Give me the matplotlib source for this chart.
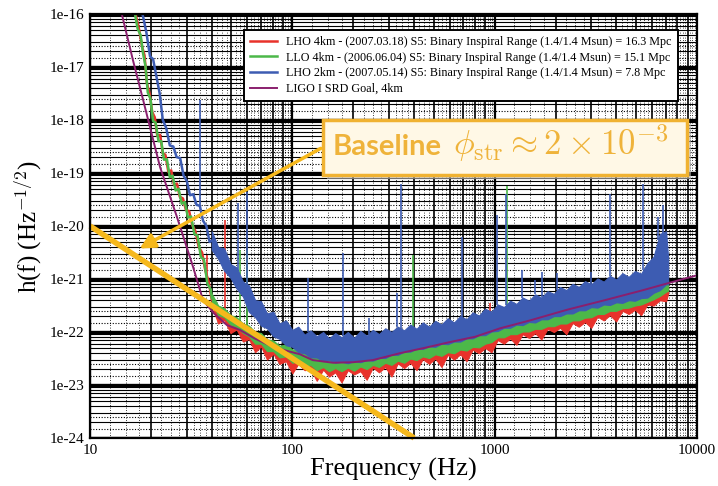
import numpy as np
import matplotlib
matplotlib.use("Agg")
import matplotlib.pyplot as plt
from matplotlib.patches import Rectangle

plt.rcParams["mathtext.fontset"] = "cm"
SERIF = ["Liberation Serif", "DejaVu Serif"]

# ---- low-frequency seismic wall (Hz, log10 strain) ----
lho4k_low_f = [16.8, 17.5, 18.1, 18.6, 19.1, 19.7, 20.3, 20.9, 21.5, 22.2, 22.9, 23.6, 24.4, 25.2, 26.0, 26.9,
               27.8, 28.8, 29.8, 30.9, 32.0, 33.2, 34.5, 35.8, 37.2, 38.6, 40.0]
lho4k_low_h = [-16.0, -16.30, -16.62, -16.78, -17.30, -17.50, -17.85, -17.95, -18.30, -18.28, -18.62, -18.66,
               -18.98, -18.95, -19.22, -19.20, -19.45, -19.48, -19.70, -19.72, -19.98, -20.10, -20.40, -20.50,
               -20.85, -21.05, -21.40]
llo4k_low_f = [16.5, 17.2, 17.8, 18.3, 18.8, 19.3, 19.9, 20.5, 21.1, 21.8, 22.5, 23.2, 24.0, 24.8, 25.6, 26.5,
               27.4, 28.4, 29.4, 30.5, 31.6, 32.8, 34.0, 35.3, 36.6, 38.0, 39.5, 40.0]
llo4k_low_h = [-15.9, -16.28, -16.40, -16.75, -16.98, -17.48, -17.60, -18.02, -18.05, -18.40, -18.40, -18.75,
               -18.74, -19.08, -19.05, -19.33, -19.30, -19.58, -19.55, -19.84, -19.82, -20.15, -20.18, -20.58,
               -20.64, -21.08, -21.20, -21.36]
lho2k_low_f = [17.5, 18.3, 19.0, 19.8, 20.5, 21.3, 22.1, 22.9, 23.8, 24.8, 25.8, 26.8, 27.9, 29.0, 30.1, 31.2,
               32.4, 33.6, 34.9, 36.2, 37.6, 39.0, 40.0]
lho2k_low_h = [-15.8, -16.05, -16.35, -16.80, -16.85, -17.18, -17.50, -18.00, -18.15, -18.48, -18.50, -18.70,
               -18.72, -19.05, -19.15, -19.42, -19.40, -19.60, -19.62, -19.90, -20.00, -20.30, -20.28]

# ---- broadband noise floor: lower / upper envelopes (log10 strain) ----
band_f = [40, 43, 46, 49.5, 53, 57, 61, 65.5, 70, 75, 80.5, 86.5, 93, 100, 107, 115, 123, 132, 142, 152, 163,
          175, 188, 202, 217, 233, 250, 268, 288, 309, 332, 357, 383, 411, 441, 474, 509, 546, 586, 630, 676,
          726, 779, 836, 898, 964, 1035, 1111, 1193, 1281, 1375, 1476, 1585, 1701, 1826, 1961, 2105, 2260,
          2426, 2604, 2796, 3002, 3222, 3459, 3714, 3987, 4280, 4595, 4933, 5296, 5685, 6103, 6552, 7034, 7200]

lho4k_hi = [-21.35, -21.58, -21.62, -21.76, -21.80, -21.92, -21.98, -22.10, -22.10, -22.24, -22.24, -22.36,
            -22.34, -22.46, -22.43, -22.54, -22.50, -22.60, -22.54, -22.62, -22.56, -22.62, -22.55, -22.61,
            -22.53, -22.58, -22.50, -22.54, -22.46, -22.50, -22.42, -22.46, -22.38, -22.41, -22.34, -22.37,
            -22.30, -22.33, -22.26, -22.28, -22.21, -22.23, -22.16, -22.17, -22.10, -22.07, -21.98, -21.98,
            -21.92, -21.92, -21.87, -21.87, -21.82, -21.82, -21.77, -21.77, -21.72, -21.72, -21.66, -21.66,
            -21.61, -21.60, -21.54, -21.54, -21.48, -21.48, -21.43, -21.42, -21.38, -21.36, -21.31, -21.26,
            -21.20, -21.12, -21.10]
lho4k_lo = [-21.50, -21.84, -21.77, -22.02, -21.95, -22.18, -22.13, -22.38, -22.27, -22.52, -22.41, -22.60,
            -22.55, -22.78, -22.60, -22.72, -22.70, -22.92, -22.71, -22.84, -22.76, -22.95, -22.72, -22.80,
            -22.74, -22.90, -22.67, -22.76, -22.66, -22.84, -22.59, -22.68, -22.58, -22.72, -22.51, -22.60,
            -22.50, -22.66, -22.43, -22.52, -22.42, -22.55, -22.33, -22.40, -22.30, -22.38, -22.15, -22.22,
            -22.12, -22.24, -22.04, -22.11, -22.02, -22.14, -21.94, -22.00, -21.92, -22.04, -21.83, -21.90,
            -21.81, -21.92, -21.71, -21.78, -21.68, -21.80, -21.60, -21.66, -21.58, -21.68, -21.48, -21.50,
            -21.40, -21.42, -21.27]

llo4k_hi = [-21.28, -21.50, -21.55, -21.68, -21.72, -21.84, -21.88, -22.00, -22.02, -22.14, -22.16, -22.26,
            -22.24, -22.33, -22.32, -22.41, -22.40, -22.48, -22.44, -22.50, -22.46, -22.51, -22.46, -22.50,
            -22.45, -22.48, -22.42, -22.44, -22.37, -22.39, -22.32, -22.34, -22.28, -22.29, -22.23, -22.23,
            -22.17, -22.18, -22.12, -22.13, -22.07, -22.08, -22.02, -22.02, -21.96, -21.93, -21.86, -21.86,
            -21.81, -21.80, -21.76, -21.76, -21.70, -21.70, -21.64, -21.64, -21.58, -21.58, -21.52, -21.52,
            -21.46, -21.46, -21.40, -21.40, -21.35, -21.34, -21.30, -21.29, -21.25, -21.23, -21.19, -21.15,
            -21.10, -21.04, -21.02]
llo4k_lo = [-21.45, -21.68, -21.72, -21.86, -21.90, -22.02, -22.08, -22.22, -22.22, -22.36, -22.36, -22.48,
            -22.46, -22.58, -22.55, -22.66, -22.62, -22.72, -22.66, -22.74, -22.68, -22.74, -22.67, -22.73,
            -22.65, -22.70, -22.62, -22.66, -22.58, -22.62, -22.54, -22.58, -22.50, -22.53, -22.46, -22.49,
            -22.42, -22.45, -22.38, -22.40, -22.33, -22.35, -22.28, -22.29, -22.22, -22.19, -22.10, -22.10,
            -22.04, -22.04, -21.99, -21.99, -21.94, -21.94, -21.89, -21.89, -21.84, -21.84, -21.78, -21.78,
            -21.73, -21.72, -21.66, -21.66, -21.60, -21.60, -21.55, -21.54, -21.50, -21.48, -21.43, -21.38,
            -21.32, -21.24, -21.22]

lho2k_hi = [-20.10, -20.40, -20.42, -20.72, -20.78, -21.05, -21.12, -21.40, -21.42, -21.65, -21.62, -21.84,
            -21.78, -21.96, -21.90, -22.05, -21.97, -22.08, -22.00, -22.12, -22.02, -22.10, -22.00, -22.11,
            -21.98, -22.07, -21.96, -22.04, -21.93, -22.00, -21.90, -21.97, -21.86, -21.94, -21.82, -21.90,
            -21.79, -21.86, -21.74, -21.82, -21.70, -21.76, -21.63, -21.69, -21.56, -21.62, -21.48, -21.53,
            -21.41, -21.47, -21.35, -21.41, -21.29, -21.35, -21.23, -21.28, -21.15, -21.21, -21.09, -21.15,
            -21.04, -21.10, -20.99, -21.05, -20.94, -21.01, -20.89, -20.96, -20.85, -20.90, -20.70, -20.58,
            -20.15, -20.10, -20.60]
lho2k_lo = [-20.45, -20.62, -20.84, -20.98, -21.18, -21.33, -21.62, -21.72, -21.88, -21.93, -22.08, -22.13,
            -22.25, -22.28, -22.38, -22.40, -22.48, -22.48, -22.55, -22.53, -22.58, -22.56, -22.59, -22.55,
            -22.57, -22.53, -22.54, -22.49, -22.49, -22.43, -22.43, -22.37, -22.37, -22.31, -22.32, -22.27,
            -22.28, -22.22, -22.23, -22.18, -22.18, -22.12, -22.12, -22.06, -22.06, -21.99, -21.98, -21.92,
            -21.92, -21.86, -21.87, -21.81, -21.82, -21.76, -21.76, -21.70, -21.70, -21.65, -21.65, -21.59,
            -21.59, -21.53, -21.54, -21.48, -21.49, -21.44, -21.45, -21.40, -21.41, -21.36, -21.35, -21.26,
            -21.21, -21.10, -21.10]

# ---- narrow spectral lines: frequency (Hz) and peak (log10 strain) ----
lho4k_line_f = [37.9, 46.5, 948, 6750]
lho4k_line_h = [-20.55, -19.89, -21.45, -21.0]
llo4k_line_f = [55.0, 59.7, 395, 1151]
llo4k_line_h = [-20.45, -20.45, -20.55, -19.25]
lho2k_line_f = [35.0, 54.0, 59.7, 120, 178, 239, 330, 345, 690, 1028, 1137, 1365, 1584, 1715, 2033, 2997,
                3720, 5420, 6420, 6800]
lho2k_line_h = [-17.62, -19.57, -19.36, -20.98, -20.51, -21.74, -21.26, -19.2, -20.21, -19.8, -19.4, -20.83,
                -21.02, -20.87, -20.89, -20.87, -19.4, -19.2, -19.83, -19.6]

# ---- design sensitivity ----
srd_f = [14.4, 16.3, 18.3, 22.2, 26.9, 32.3, 36.2, 41.0, 47.5, 55, 65, 80, 95, 109, 126, 159, 200, 250, 340,
         450, 600, 800, 1064, 1500, 2280, 3500, 5420, 7500, 10000]
srd_h = [-16.02, -16.87, -17.62, -18.89, -19.83, -20.77, -21.40, -21.65, -21.87, -21.96, -22.12, -22.28,
         -22.36, -22.42, -22.53, -22.58, -22.57, -22.53, -22.40, -22.30, -22.19, -22.09, -21.93, -21.78,
         -21.58, -21.40, -21.21, -21.06, -20.93]

# ---- baseline strain-noise line ----
baseline_f = [10, 400]
baseline_h = [1e-20, 1e-24]

legend_labels = [
    "LHO 4km - (2007.03.18) S5: Binary Inspiral Range (1.4/1.4 Msun) = 16.3 Mpc",
    "LLO 4km - (2006.06.04) S5: Binary Inspiral Range (1.4/1.4 Msun) = 15.1 Mpc",
    "LHO 2km - (2007.05.14) S5: Binary Inspiral Range (1.4/1.4 Msun) = 7.8 Mpc",
    "LIGO I SRD Goal, 4km",
]
colors = ["#e8322b", "#4cb849", "#3d5cb2", "#8a1f6e"]
ORANGE = "#f6b81c"
TEXT_ORANGE = "#efb33a"

fig = plt.figure(figsize=(7.18, 4.86), dpi=100)
ax = fig.add_axes([90 / 718, 1 - 438 / 486, 607 / 718, 424 / 486])
ax.set_xscale("log")
ax.set_yscale("log")
ax.set_xlim(10, 10000)
ax.set_ylim(1e-24, 1e-16)

# grid: solid decades and integer multiples, dotted subdivisions
for dec in [10, 100, 1000]:
    ax.axvline(dec, color="black", lw=1.6, zorder=1)
    for m in range(1, 10):
        if m > 1:
            ax.axvline(dec * m, color="black", lw=1.2, zorder=1)
        for k in (0.25, 0.5, 0.75):
            ax.axvline(dec * (m + k), color="black", lw=0.6, ls=(0, (1, 2)), zorder=1)
for e in range(-24, -15):
    ax.axhline(10.0 ** e, color="black", lw=2.4, zorder=1)
    for m in range(2, 10):
        ax.axhline(m * 10.0 ** e, color="black", lw=0.8, zorder=1)
    for m in (1.5, 2.5):
        ax.axhline(m * 10.0 ** e, color="black", lw=0.8, ls=(0, (1, 1.5)), zorder=1)


def draw_detector(low_f, low_h, lo, hi, line_f, line_h, color, label):
    ax.plot(low_f, 10.0 ** np.array(low_h), color=color, lw=1.8, zorder=3, label=label)
    ax.fill_between(band_f, 10.0 ** np.array(lo), 10.0 ** np.array(hi), color=color, lw=0.8,
                    edgecolor=color, zorder=3)
    trace_f = np.log10(list(low_f) + list(band_f))
    trace_h = list(low_h) + list(hi)
    order = np.argsort(trace_f)
    base = np.interp(np.log10(line_f), trace_f[order], np.array(trace_h)[order])
    ax.vlines(line_f, 10.0 ** base, 10.0 ** np.array(line_h), color=color, lw=1.2, zorder=3)


draw_detector(lho4k_low_f, lho4k_low_h, lho4k_lo, lho4k_hi, lho4k_line_f, lho4k_line_h, colors[0], legend_labels[0])
draw_detector(llo4k_low_f, llo4k_low_h, llo4k_lo, llo4k_hi, llo4k_line_f, llo4k_line_h, colors[1], legend_labels[1])
draw_detector(lho2k_low_f, lho2k_low_h, lho2k_lo, lho2k_hi, lho2k_line_f, lho2k_line_h, colors[2], legend_labels[2])
ax.plot(srd_f, 10.0 ** np.array(srd_h), color=colors[3], lw=1.4, zorder=4, label=legend_labels[3])

ax.plot(baseline_f, baseline_h, color=ORANGE, lw=4, solid_capstyle="butt", zorder=5, clip_on=False)

ticks_x = [10, 100, 1000, 10000]
ax.set_xticks(ticks_x)
ax.set_xticklabels([str(t) for t in ticks_x], family=SERIF, fontsize=11)
ticks_y = [10.0 ** e for e in range(-24, -15)]
ax.set_yticks(ticks_y)
ax.set_yticklabels([f"1e{e}" for e in range(-24, -15)], family=SERIF, fontsize=11)
ax.minorticks_off()
ax.tick_params(length=0, pad=4)
for s in ax.spines.values():
    s.set_linewidth(1.6)
    s.set_zorder(6)

ax.set_xlabel("Frequency (Hz)", family=SERIF, fontsize=19, labelpad=1)
ax.set_ylabel(r"h(f) (Hz$^{-1/2}$)", family=SERIF, fontsize=18, labelpad=4)

leg = ax.legend(loc="upper right", bbox_to_anchor=((678 - 90) / 607, (438 - 30) / 424), borderaxespad=0,
                prop={"family": SERIF, "size": 8.7}, frameon=True, fancybox=False, edgecolor="black",
                framealpha=1, handlelength=2.2, borderpad=0.5, labelspacing=0.3)
leg.get_frame().set_linewidth(1.4)
leg.set_zorder(7)

# highlighted annotation
bx0, by0, bx1, by1 = 323 / 718, 1 - 175 / 486, 687 / 718, 1 - 120 / 486
fig.patches.append(Rectangle((bx0 + 0.006, by0 - 0.008), bx1 - bx0, by1 - by0, transform=fig.transFigure,
                             facecolor="#bdbdbd", edgecolor="none", alpha=0.6, zorder=8))
fig.patches.append(Rectangle((bx0, by0), bx1 - bx0, by1 - by0, transform=fig.transFigure,
                             facecolor="#fff8e6", edgecolor="#f0b232", lw=2.5, zorder=9))
fig.text(333 / 718, 1 - 155 / 486, "Baseline", fontsize=21, color=TEXT_ORANGE, va="baseline", ha="left",
         family="Lato", weight="bold", zorder=10)
fig.text(453 / 718, 1 - 155 / 486, r"$\phi_{\rm str} \approx 2\times10^{-3}$", fontsize=25,
         color=TEXT_ORANGE, va="baseline", ha="left", zorder=10)

ax.annotate("", xy=(17.1, 10 ** -20.45), xytext=(142, 10 ** -18.51),
            arrowprops=dict(arrowstyle="-|>,head_length=0.9,head_width=0.45", color=ORANGE, lw=2.5),
            zorder=6)

fig.savefig("out.png", dpi=100)
